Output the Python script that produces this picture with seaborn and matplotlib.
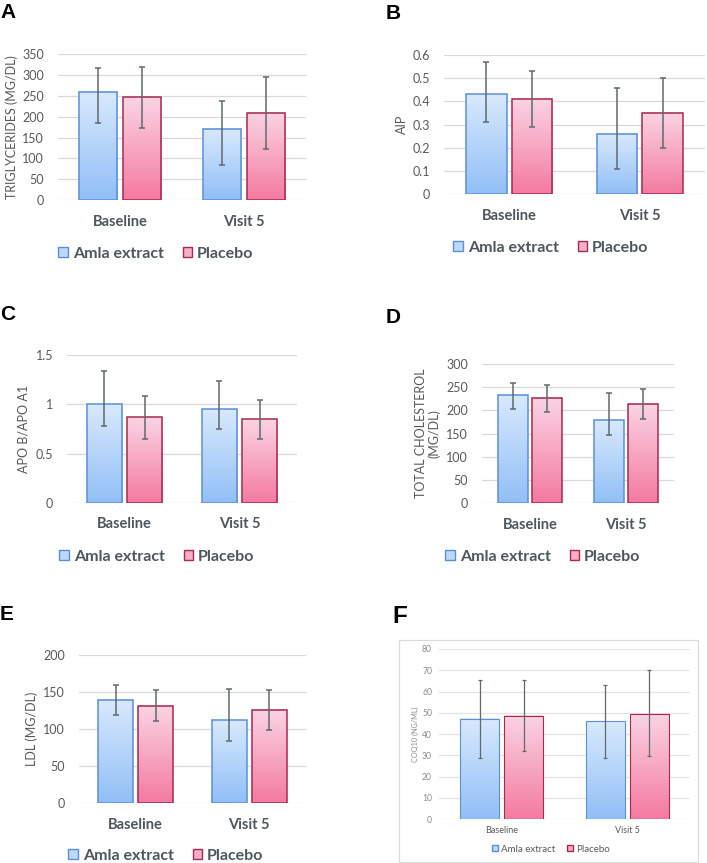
import numpy as np
import pandas as pd
import matplotlib
matplotlib.use("Agg")
import matplotlib.pyplot as plt
from matplotlib.colors import to_rgb
from matplotlib.patches import Patch, Rectangle
import seaborn as sns

sns.set_theme(style="white")
plt.rcParams["font.family"] = ["Lato", "DejaVu Sans"]

W, H = 707, 863

CATEGORIES = ["Baseline", "Visit 5"]
GROUPS = ["Amla extract", "Placebo"]

# A: triglycerides
tg_amla = [260, 171]
tg_placebo = [247, 209]
tg_amla_low = [186, 85]
tg_amla_high = [318, 237]
tg_placebo_low = [172, 123]
tg_placebo_high = [320, 296]
tg_ticks = [0, 50, 100, 150, 200, 250, 300, 350]

# B: AIP
aip_amla = [0.43, 0.26]
aip_placebo = [0.41, 0.35]
aip_amla_low = [0.31, 0.11]
aip_amla_high = [0.57, 0.46]
aip_placebo_low = [0.29, 0.20]
aip_placebo_high = [0.53, 0.50]
aip_ticks = [0, 0.1, 0.2, 0.3, 0.4, 0.5, 0.6]

# C: ApoB / ApoA1
apo_amla = [1.00, 0.95]
apo_placebo = [0.87, 0.85]
apo_amla_low = [0.78, 0.75]
apo_amla_high = [1.34, 1.24]
apo_placebo_low = [0.65, 0.65]
apo_placebo_high = [1.09, 1.05]
apo_ticks = [0, 0.5, 1, 1.5]

# D: total cholesterol
tc_amla = [232, 178]
tc_placebo = [226, 213]
tc_amla_low = [203, 146]
tc_amla_high = [259, 238]
tc_placebo_low = [197, 182]
tc_placebo_high = [255, 245]
tc_ticks = [0, 50, 100, 150, 200, 250, 300]

# E: LDL
ldl_amla = [140, 112]
ldl_placebo = [132, 126]
ldl_amla_low = [119, 84]
ldl_amla_high = [160, 155]
ldl_placebo_low = [111, 99]
ldl_placebo_high = [153, 153]
ldl_ticks = [0, 50, 100, 150, 200]

# F: CoQ10
coq_amla = [47.2, 46.0]
coq_placebo = [48.6, 49.6]
coq_amla_low = [28.9, 28.9]
coq_amla_high = [65.6, 63.1]
coq_placebo_low = [31.8, 29.5]
coq_placebo_high = [65.6, 70.0]
coq_ticks = [0, 10, 20, 30, 40, 50, 60, 70, 80]

# colours
AMLA_TOP, AMLA_BOT, AMLA_EDGE = "#d8e9fc", "#92bff7", "#5b8fd9"
PLAC_TOP, PLAC_BOT, PLAC_EDGE = "#fad4e3", "#f47aa1", "#a8294f"
TEXT = "#4d575c"
TICK = "#595959"
ERR = "#5f6a6e"


def gradient(top, bottom, n=64):
    t = np.linspace(0, 1, n)[:, None, None]
    a = np.array(to_rgb(top))[None, None, :]
    b = np.array(to_rgb(bottom))[None, None, :]
    return a * (1 - t) + b * t


def px_rect(l, t, r, b):
    return [l / W, 1 - b / H, (r - l) / W, (b - t) / H]


def draw_panel(fig, box, letter, letter_pos, ylabel, ylabel_x, amla, placebo,
               lows, highs, ticks, legend_pos, small=False):
    ax = fig.add_axes(px_rect(*box))
    df = pd.DataFrame({
        "visit": CATEGORIES * 2,
        "group": [GROUPS[0]] * 2 + [GROUPS[1]] * 2,
        "value": amla + placebo,
    })
    sns.barplot(data=df, x="visit", y="value", hue="group", order=CATEGORIES,
                hue_order=GROUPS, palette=[AMLA_BOT, PLAC_BOT], width=0.7,
                gap=0.12, errorbar=None, legend=False, ax=ax)

    # gradient fill + asymmetric error bars on each bar
    styles = [(AMLA_TOP, AMLA_BOT, AMLA_EDGE), (PLAC_TOP, PLAC_BOT, PLAC_EDGE)]
    for cont, (top, bot, edge), lo, hi in zip(ax.containers, styles, lows, highs):
        for j, p in enumerate(cont.patches):
            x0, w, h = p.get_x(), p.get_width(), p.get_height()
            ax.imshow(gradient(top, bot), extent=(x0, x0 + w, 0, h),
                      origin="upper", aspect="auto", zorder=1,
                      interpolation="bilinear")
            p.set_facecolor("none")
            p.set_edgecolor(edge)
            p.set_linewidth(0.8 if small else 1.1)
            p.set_zorder(2)
            xc = x0 + w / 2
            ax.errorbar([xc], [h], yerr=[[h - lo[j]], [hi[j] - h]], fmt="none",
                        ecolor=ERR, elinewidth=0.9 if small else 1.1,
                        capsize=1.6 if small else 2.3,
                        capthick=0.9 if small else 1.1, zorder=3)

    ax.set_xlim(-0.5, 1.5)
    ax.set_ylim(ticks[0], ticks[-1])
    ax.set_yticks(ticks)
    ax.set_yticklabels([f"{v:g}" for v in ticks])
    ax.set_axisbelow(True)
    ax.yaxis.grid(True, color="#e3e3e3" if small else "#d9d9d9", lw=0.9)
    ax.xaxis.grid(False)
    sns.despine(ax=ax, left=True, bottom=True)
    ax.set_xlabel("")

    if small:
        ax.tick_params(axis="y", length=0, pad=5, labelsize=6.2, labelcolor="#8c8c8c")
        ax.tick_params(axis="x", length=0, pad=5, labelsize=6.5, labelcolor=TICK)
        ax.set_ylabel(ylabel, fontsize=5.2, color="#8c8c8c")
        leg_size = 7
    else:
        ax.tick_params(axis="y", length=0, pad=10, labelsize=9, labelcolor=TICK)
        ax.tick_params(axis="x", length=0, pad=10.5, labelsize=10.5, labelcolor=TEXT)
        for lbl in ax.get_xticklabels():
            lbl.set_fontweight("bold")
        ax.set_ylabel(ylabel, fontsize=9, color=TICK, linespacing=1.1)
        leg_size = 11.5
    ax.yaxis.label.set_va("center")
    ax.yaxis.set_label_coords(ylabel_x, 0.5)

    handles = [
        Patch(facecolor="#bcd8fa", edgecolor=AMLA_EDGE, lw=1.0, label=GROUPS[0]),
        Patch(facecolor="#f7aec7", edgecolor=PLAC_EDGE, lw=1.0, label=GROUPS[1]),
    ]
    fig.legend(handles=handles, loc="center", ncol=2, frameon=False,
               bbox_to_anchor=(legend_pos[0] / W, 1 - legend_pos[1] / H),
               prop={"size": leg_size, "weight": "normal" if small else "bold"},
               labelcolor=TICK if small else TEXT, handlelength=0.6,
               handleheight=0.6, handletextpad=0.3, columnspacing=1.2)

    fig.text(letter_pos[0] / W, 1 - letter_pos[1] / H, letter,
             fontsize=17.5 if small else 15, fontweight="bold",
             family=["Liberation Sans", "DejaVu Sans"], color="black",
             ha="left", va="baseline")
    return ax


def main():
    fig = plt.figure(figsize=(W / 100, H / 100), dpi=100)

    draw_panel(fig, (58, 54.3, 306, 200), "A", (0, 18.3),
               "TRIGLYCERIDES (MG/DL)", -0.185, tg_amla, tg_placebo,
               [tg_amla_low, tg_placebo_low], [tg_amla_high, tg_placebo_high],
               tg_ticks, (156, 254))
    draw_panel(fig, (444, 55, 705, 194.3), "B", (386, 19),
               "AIP", -0.162, aip_amla, aip_placebo,
               [aip_amla_low, aip_placebo_low], [aip_amla_high, aip_placebo_high],
               aip_ticks, (551, 248))
    draw_panel(fig, (67, 355.3, 297, 502.7), "C", (0, 320),
               "APO B/APO A1", -0.19, apo_amla, apo_placebo,
               [apo_amla_low, apo_placebo_low], [apo_amla_high, apo_placebo_high],
               apo_ticks, (157, 557))
    draw_panel(fig, (482, 363.7, 674, 503.3), "D", (386, 323),
               "TOTAL CHOLESTEROL\n(MG/DL)", -0.284, tc_amla, tc_placebo,
               [tc_amla_low, tc_placebo_low], [tc_amla_high, tc_placebo_high],
               tc_ticks, (543, 557))
    draw_panel(fig, (79, 655.3, 306, 803.3), "E", (0, 620),
               "LDL (MG/DL)", -0.208, ldl_amla, ldl_placebo,
               [ldl_amla_low, ldl_placebo_low], [ldl_amla_high, ldl_placebo_high],
               ldl_ticks, (166, 856))
    draw_panel(fig, (439, 649, 690, 819), "F", (392, 623),
               "COQ10 (NG/ML)", -0.093, coq_amla, coq_placebo,
               [coq_amla_low, coq_placebo_low], [coq_amla_high, coq_placebo_high],
               coq_ticks, (551, 849), small=True)

    # chart border around panel F
    fig.patches.append(Rectangle((399 / W, 1 - 862 / H), 299 / W, 222 / H,
                                 transform=fig.transFigure, fill=False,
                                 edgecolor="#d9d9d9", lw=0.9))

    fig.savefig("out.png", dpi=100)


if __name__ == "__main__":
    main()
